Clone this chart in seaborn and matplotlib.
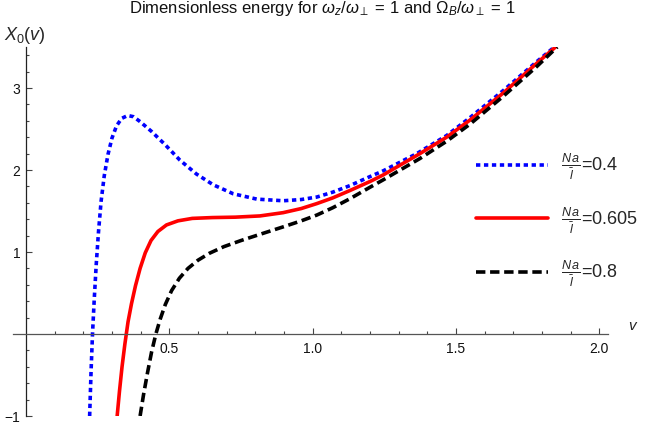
import numpy as np
import pandas as pd
import matplotlib
matplotlib.use('Agg')
import matplotlib.pyplot as plt
from matplotlib.ticker import FixedLocator
import seaborn as sns

# curves
v_04 = [0.222, 0.227, 0.232, 0.238, 0.245, 0.253, 0.262, 0.273, 0.286, 0.300, 0.316, 0.334,
        0.355, 0.375, 0.398, 0.438, 0.485, 0.537, 0.595, 0.653, 0.723, 0.805, 0.897, 0.960,
        1.014, 1.070, 1.130, 1.200, 1.246, 1.363, 1.467, 1.549, 1.665, 1.781, 1.843]
x_04 = [-1.00, -0.45, 0.00, 0.42, 0.85, 1.25, 1.62, 1.93, 2.19, 2.39, 2.54, 2.63,
        2.665, 2.65, 2.59, 2.47, 2.31, 2.12, 1.95, 1.82, 1.71, 1.645, 1.625, 1.64,
        1.67, 1.73, 1.81, 1.92, 1.99, 2.20, 2.42, 2.64, 2.97, 3.32, 3.50]

v_0605 = [0.318, 0.326, 0.335, 0.345, 0.356, 0.368, 0.382, 0.398, 0.416, 0.436, 0.460, 0.490,
          0.530, 0.580, 0.650, 0.730, 0.816, 0.897, 0.960, 1.014, 1.070, 1.130, 1.200, 1.246,
          1.374, 1.467, 1.549, 1.665, 1.781, 1.847]
x_0605 = [-1.00, -0.70, -0.40, -0.12, 0.15, 0.37, 0.59, 0.80, 0.99, 1.14, 1.25, 1.33,
          1.38, 1.41, 1.42, 1.425, 1.44, 1.48, 1.53, 1.59, 1.66, 1.75, 1.86, 1.94,
          2.20, 2.40, 2.61, 2.94, 3.30, 3.50]

v_08 = [0.398, 0.410, 0.424, 0.438, 0.453, 0.468, 0.486, 0.508, 0.535, 0.565, 0.600, 0.640,
        0.690, 0.750, 0.820, 0.900, 0.960, 1.014, 1.070, 1.130, 1.200, 1.246, 1.374, 1.467,
        1.549, 1.665, 1.781, 1.853]
x_08 = [-1.00, -0.74, -0.47, -0.22, 0.00, 0.18, 0.36, 0.53, 0.68, 0.80, 0.90, 0.985,
        1.065, 1.14, 1.22, 1.31, 1.38, 1.45, 1.54, 1.65, 1.79, 1.88, 2.14, 2.35,
        2.56, 2.90, 3.26, 3.50]

labels = [r'$\frac{N\,a}{\bar{l}}$=0.4', r'$\frac{N\,a}{\bar{l}}$=0.605', r'$\frac{N\,a}{\bar{l}}$=0.8']
x_major = [0.5, 1.0, 1.5, 2.0]
x_major_labels = ['0.5', '1.0', '1.5', '2.0']
y_major = [-1, 1, 2, 3]
y_major_labels = ['\u22121', '1', '2', '3']

sns.set_theme(style='white')
plt.rcParams['font.family'] = ['Liberation Sans', 'DejaVu Sans']
plt.rcParams['mathtext.fontset'] = 'custom'
plt.rcParams['mathtext.rm'] = 'Liberation Sans'
plt.rcParams['mathtext.it'] = 'Liberation Sans:italic'
plt.rcParams['mathtext.bf'] = 'Liberation Sans:bold'

fig = plt.figure(figsize=(6.45, 4.29), dpi=100)
ax = fig.add_axes([0.0203, 0.0303, 0.9223, 0.8601])

sns.lineplot(x=v_04, y=x_04, ax=ax, color='#0000ff', lw=2.6,
             linestyle=(0, (1.2, 1.0)), label=labels[0])
sns.lineplot(x=v_0605, y=x_0605, ax=ax, color='#ff0000', lw=2.6,
             linestyle='-', label=labels[1])
sns.lineplot(x=v_08, y=x_08, ax=ax, color='black', lw=2.6,
             linestyle=(0, (2.6, 1.3)), label=labels[2])

ax.set_xlim(-0.045, 2.03)
ax.set_ylim(-1, 3.5)

for s in ['top', 'right']:
    ax.spines[s].set_visible(False)
ax.spines['left'].set_position(('data', 0))
ax.spines['bottom'].set_position(('data', 0))
ax.spines['left'].set_color('#222222')
ax.spines['bottom'].set_color('#555555')
for s in ['left', 'bottom']:
    ax.spines[s].set_linewidth(0.9)

ax.set_xticks(x_major)
ax.set_xticklabels(x_major_labels)
ax.set_yticks(y_major)
ax.set_yticklabels(y_major_labels)
ax.xaxis.set_minor_locator(FixedLocator([i / 10 for i in range(1, 21) if i % 5 != 0]))
ax.yaxis.set_minor_locator(FixedLocator([i / 5 for i in range(-4, 18) if i % 5 != 0 and i != 0]))
ax.tick_params(which='both', bottom=True, left=True, direction='in', color='#444444',
               width=0.8, labelsize=10, labelcolor='#111111')
ax.tick_params(axis='x', which='both', pad=6)
ax.tick_params(axis='y', which='both', pad=4)
ax.tick_params(which='major', length=4)
ax.tick_params(which='minor', length=2.3)
ax.set_xlabel('')
ax.set_ylabel('')

leg = ax.legend(loc='upper left', bbox_to_anchor=(0.750, 0.759), frameon=False,
                handlelength=4.04, handletextpad=0.72, labelspacing=1.27, fontsize=13)

fig.text(0.5, 1 - 13 / 429,
         r'Dimensionless energy for $\omega_z/\omega_\perp$ = 1 and $\Omega_B/\omega_\perp$ = 1',
         ha='center', va='baseline', fontsize=12, color='#111111')
fig.text(4 / 645, 1 - 35 / 429, r'$X_0(v)$', ha='left', va='center', fontsize=13)
fig.text(628 / 645, 1 - 326 / 429, 'v', ha='left', va='center', fontsize=11, style='italic')

fig.savefig('out.png', dpi=100)
